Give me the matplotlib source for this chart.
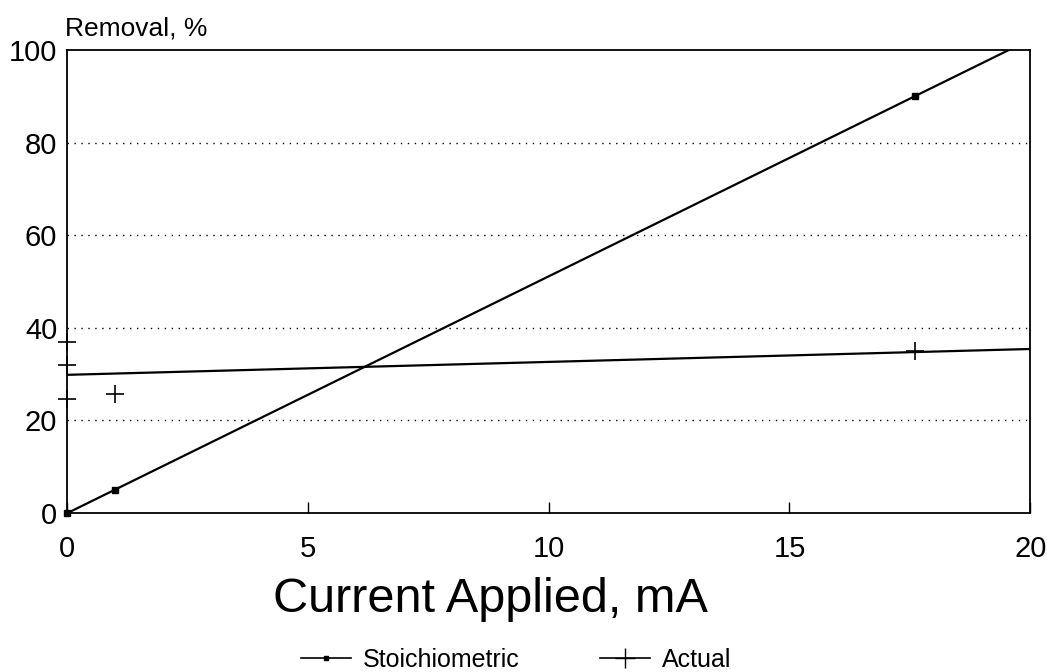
import numpy as np
import matplotlib
matplotlib.use("Agg")
import matplotlib.pyplot as plt

plt.rcParams['font.family'] = ['Liberation Sans', 'DejaVu Sans']

# data
stoich_x = [0.0, 1.0, 17.6]
stoich_y = [0.0, 5.0, 90.0]
actual_x = [0.0, 0.0, 0.0, 1.0, 17.6]
actual_y = [37.0, 32.0, 24.6, 25.8, 35.0]

x_ticks = [0, 5, 10, 15, 20]
y_ticks = [0, 20, 40, 60, 80, 100]

fig = plt.figure(figsize=(10.47, 6.72), dpi=100)
ax = fig.add_axes([0.064, 0.2366, 0.92, 0.689])

# fitted lines (linear regression)
xx = np.array([0, 20])
p_s = np.polyfit(stoich_x, stoich_y, 1)
p_a = np.polyfit(actual_x, actual_y, 1)
ax.plot(xx, np.polyval(p_s, xx), color='k', lw=1.6, zorder=3)
ax.plot(xx, np.polyval(p_a, xx), color='k', lw=1.6, zorder=3)

ax.plot(stoich_x, stoich_y, ls='none', marker='s', ms=4, color='k', clip_on=False, zorder=4)
ax.plot(actual_x, actual_y, ls='none', marker='+', ms=13, mew=1.2, color='k', clip_on=False, zorder=4)

# legend handles
h1, = ax.plot([], [], color='k', lw=1.2, marker='s', ms=3)
h2, = ax.plot([], [], color='k', lw=1.2, marker='+', ms=14, mew=1.0)

for g in [20, 40, 60, 80]:
    ax.axhline(g, color='k', lw=1.0, ls=(0, (1, 4)), zorder=1)

ax.set_xlim(0, 20)
ax.set_ylim(0, 100)
ax.set_xticks(x_ticks)
ax.set_yticks(y_ticks)
ax.tick_params(axis='x', direction='in', length=8, width=1, labelsize=21, pad=16)
ax.tick_params(axis='y', length=0, labelsize=21, pad=7)
for s in ax.spines.values():
    s.set_linewidth(1.3)

ax.set_xlabel('Current Applied, mA', fontsize=35, labelpad=10)
ax.xaxis.label.set_position((0.44, 0))
fig.text(0.062, 0.958, 'Removal, %', fontsize=19, ha='left', va='center')

fig.legend([h1, h2], ['Stoichiometric', 'Actual'], loc='center',
           bbox_to_anchor=(0.493, 1 - 660 / 672), ncol=2, frameon=False,
           fontsize=18, handlelength=2.0, handletextpad=0.5, columnspacing=3.2)

fig.savefig('out.png', dpi=100)
